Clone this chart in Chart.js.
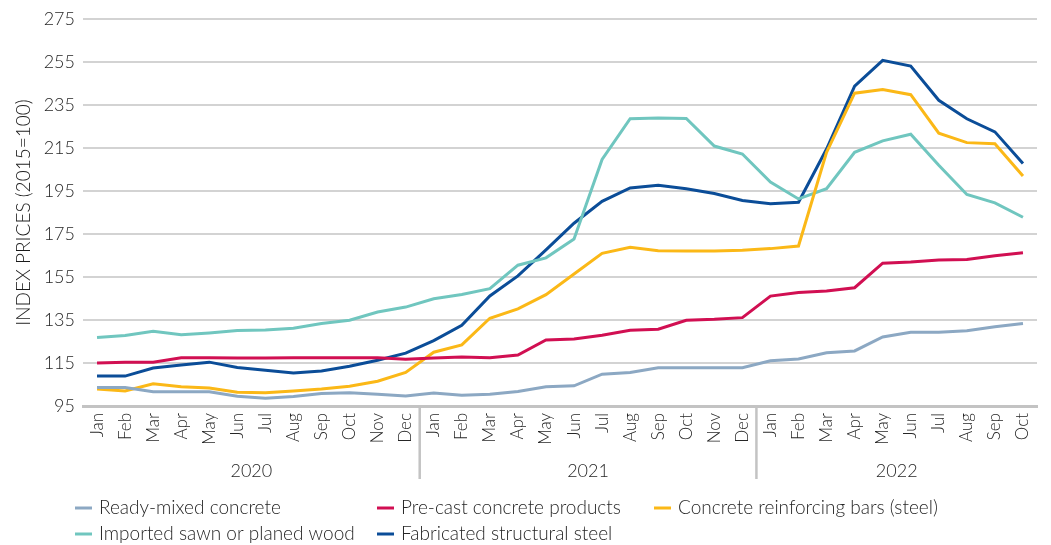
<!DOCTYPE html>
<html>
<head>
<meta charset="utf-8">
<script src="https://cdn.jsdelivr.net/npm/chart.js@4/dist/chart.umd.min.js"></script>
<style>
  html, body { margin: 0; padding: 0; background: #ffffff; }
  #wrap { position: relative; width: 1051px; height: 545px; }
</style>
</head>
<body>
<div id="wrap"><canvas id="c" width="1051" height="545"></canvas></div>
<script>
// Monthly construction input price indices, Jan 2020 – Oct 2022 (2015 = 100)
const months = [
  'Jan','Feb','Mar','Apr','May','Jun','Jul','Aug','Sep','Oct','Nov','Dec',
  'Jan','Feb','Mar','Apr','May','Jun','Jul','Aug','Sep','Oct','Nov','Dec',
  'Jan','Feb','Mar','Apr','May','Jun','Jul','Aug','Sep','Oct'
];
const years = ['2020', '2021', '2022'];
const monthsPerYear = [12, 12, 10];

const readyMixed = [
  103.6, 103.6, 101.6, 101.6, 101.6, 99.5, 98.6, 99.4, 100.8, 101.2, 100.5, 99.7,
  101.1, 100.0, 100.5, 101.7, 103.9, 104.4, 109.8, 110.6, 112.8, 112.8, 112.8, 112.8,
  116.0, 116.9, 119.8, 120.6, 127.1, 129.3, 129.3, 130.0, 131.9, 133.4
];
const preCast = [
  115.0, 115.4, 115.4, 117.4, 117.4, 117.3, 117.3, 117.4, 117.4, 117.4, 117.4, 116.8,
  117.3, 117.8, 117.5, 118.7, 125.7, 126.2, 127.9, 130.2, 130.7, 134.9, 135.3, 136.1,
  146.1, 147.8, 148.5, 150.0, 161.4, 162.0, 162.9, 163.1, 164.9, 166.3
];
const rebar = [
  102.9, 102.0, 105.3, 103.9, 103.4, 101.4, 101.2, 102.0, 102.9, 104.2, 106.5, 110.6,
  120.0, 123.4, 135.8, 140.2, 146.8, 156.4, 166.0, 168.8, 167.2, 167.1, 167.1, 167.4,
  168.2, 169.4, 213.0, 240.5, 242.2, 239.8, 221.9, 217.5, 217.0, 202.0
];
const importedWood = [
  126.9, 127.8, 129.8, 128.1, 129.0, 130.1, 130.4, 131.2, 133.4, 134.9, 138.7, 141.0,
  144.9, 146.9, 149.6, 160.5, 163.9, 172.7, 209.7, 228.6, 229.0, 228.7, 215.9, 212.2,
  199.2, 191.3, 196.1, 213.0, 218.3, 221.4, 207.0, 193.4, 189.5, 182.8
];
const structuralSteel = [
  108.9, 108.9, 112.7, 114.1, 115.4, 112.9, 111.6, 110.4, 111.3, 113.5, 116.3, 119.6,
  125.4, 132.5, 146.2, 155.5, 167.6, 180.0, 190.2, 196.4, 197.7, 196.0, 193.8, 190.6,
  189.1, 189.8, 214.5, 243.8, 255.8, 253.1, 237.2, 228.6, 222.5, 207.8
];

const FONT = "Lato, 'Open Sans', sans-serif";
const WEIGHT = 300;
const TEXT = '#262626';

const series = [
  { label: 'Ready-mixed concrete',               data: readyMixed,      color: '#8ca8c3' },
  { label: 'Pre-cast concrete products',         data: preCast,         color: '#d10f52' },
  { label: 'Concrete reinforcing bars (steel)',  data: rebar,           color: '#fbb817' },
  { label: 'Imported sawn or planed wood',       data: importedWood,    color: '#70c6bf' },
  { label: 'Fabricated structural steel',        data: structuralSteel, color: '#0b4d98' }
];

// Legend positions: two rows, aligned in columns
const legendSlots = [
  { x: 75,  y: 508 }, { x: 377, y: 508 }, { x: 654, y: 508 },
  { x: 75,  y: 534 }, { x: 377, y: 534 }
];

// Year band below the month labels, with separators between years
const yearBands = {
  id: 'yearBands',
  afterDraw(chart) {
    const { ctx, scales: { x }, chartArea } = chart;
    const step = x.getPixelForValue(1) - x.getPixelForValue(0);
    ctx.save();
    let start = 0;
    const edges = [chartArea.left];
    monthsPerYear.forEach((n, i) => {
      const end = start + n - 1;
      const right = i < monthsPerYear.length - 1 ? x.getPixelForValue(end) + step / 2 : chartArea.right;
      edges.push(right);
      start += n;
    });
    ctx.strokeStyle = '#c3c3c3';
    ctx.lineWidth = 2.5;
    for (let i = 1; i < edges.length - 1; i++) {
      ctx.beginPath();
      ctx.moveTo(edges[i], chartArea.bottom);
      ctx.lineTo(edges[i], 479);
      ctx.stroke();
    }
    ctx.fillStyle = TEXT;
    ctx.font = WEIGHT + ' 18px ' + FONT;
    ctx.textAlign = 'center';
    ctx.textBaseline = 'middle';
    years.forEach((y, i) => {
      ctx.fillText(y, (edges[i] + edges[i + 1]) / 2, 471);
    });

    // legend
    ctx.textAlign = 'left';
    ctx.font = WEIGHT + ' 19px ' + FONT;
    series.forEach((s, i) => {
      const p = legendSlots[i];
      ctx.strokeStyle = s.color;
      ctx.lineWidth = 3;
      ctx.beginPath();
      ctx.moveTo(p.x, p.y);
      ctx.lineTo(p.x + 17, p.y);
      ctx.stroke();
      ctx.fillStyle = TEXT;
      ctx.fillText(s.label, p.x + 24, p.y);
    });
    ctx.restore();
  }
};

new Chart(document.getElementById('c'), {
  type: 'line',
  data: {
    labels: months,
    datasets: series.map(s => ({
      label: s.label,
      data: s.data,
      borderColor: s.color,
      backgroundColor: s.color,
      borderWidth: 3,
      pointRadius: 0,
      tension: 0,
      fill: false
    }))
  },
  options: {
    responsive: false,
    animation: false,
    devicePixelRatio: 1,
    layout: { padding: { top: 19, right: 14, bottom: 0, left: 0 } },
    plugins: {
      legend: { display: false },
      tooltip: { enabled: false }
    },
    scales: {
      x: {
        offset: true,
        grid: { display: false, drawTicks: false },
        border: { display: true, color: '#c3c3c3', width: 3 },
        ticks: {
          autoSkip: false,
          maxRotation: 90,
          minRotation: 90,
          padding: 7,
          color: TEXT,
          font: { family: FONT, size: 17, weight: WEIGHT }
        },
        afterFit(scale) { scale.height = 139; }
      },
      y: {
        min: 95,
        max: 275,
        grid: { color: '#d3d3d3', lineWidth: 2, drawTicks: false },
        border: { display: false },
        ticks: {
          stepSize: 20,
          padding: 8,
          color: TEXT,
          font: { family: FONT, size: 18, weight: WEIGHT }
        },
        title: {
          display: true,
          text: 'INDEX PRICES (2015=100)',
          color: '#1a1a1a',
          font: { family: FONT, size: 19, weight: WEIGHT },
          padding: { top: 12, bottom: 0 }
        },
        afterFit(scale) { scale.width = 83; }
      }
    }
  },
  plugins: [yearBands]
});
</script>
</body>
</html>
